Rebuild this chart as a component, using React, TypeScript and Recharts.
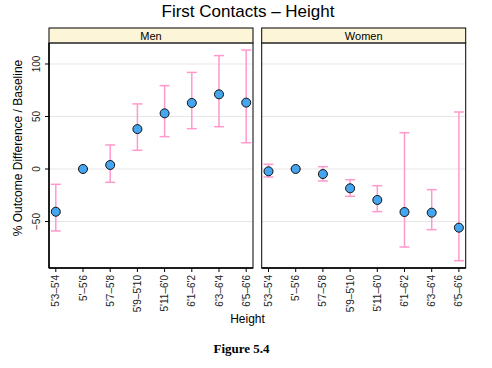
import React from "react";
import { ComposedChart, Scatter, XAxis, YAxis, CartesianGrid, ErrorBar } from "recharts";

const heightLabels = ["5'3–5'4", "5'–5'6", "5'7–5'8", "5'9–5'10", "5'11–6'0", "6'1–6'2", "6'3–6'4", "6'5–6'6"];
const menValues = [-40.7, 0, 3.8, 38, 53, 62.9, 71.1, 63.2];
const menLow = [-59, 0, -12.7, 17.8, 30.8, 38.4, 40.3, 25];
const menHigh = [-14.6, 0, 22.9, 62, 79.4, 92, 108, 113.3];
const womenValues = [-2.2, 0, -4.8, -18.4, -29.5, -41, -41.6, -55.9];
const womenLow = [-7.6, 0, -11.4, -26, -40.6, -74.3, -57.8, -87.3];
const womenHigh = [4.5, 0, 2.2, -10.2, -15.9, 34.6, -19.7, 54.3];
const yTicks = [-50, 0, 50, 100];
const xTicks = [1, 2, 3, 4, 5, 6, 7, 8];

const build = (vals: number[], lo: number[], hi: number[]) =>
  vals.map((v, i) => ({ x: i + 1, y: v, err: [v - lo[i], hi[i] - v] }));

const menData = build(menValues, menLow, menHigh);
const womenData = build(womenValues, womenLow, womenHigh);

const FONT = "'Liberation Sans', Arial, Helvetica, sans-serif";

const XTick = (props: any) => {
  const { x, y, payload } = props;
  const bx = x + 3.5;
  const by = y + 1;
  return (
    <text x={bx} y={by} transform={`rotate(-90 ${bx} ${by})`} textAnchor="end" fontSize={10} fontFamily={FONT} fill="#222">
      {heightLabels[payload.value - 1]}
    </text>
  );
};

const YTick = (props: any) => {
  const { x, y, payload } = props;
  const bx = x - 3;
  return (
    <text x={bx} y={y} transform={`rotate(-90 ${bx} ${y})`} textAnchor="middle" fontSize={10} fontFamily={FONT} fill="#222">
      {payload.value < 0 ? "−" + Math.abs(payload.value) : payload.value}
    </text>
  );
};

const Dot = (props: any) => {
  const { cx, cy } = props;
  return <circle cx={cx} cy={cy} r={4.5} fill="#45a5ef" stroke="#111" strokeWidth={1} />;
};

const Panel = ({ data, showY, left, width, marginLeft, marginRight }: any) => (
  <div style={{ position: "absolute", left, top: 0 }}>
    <ComposedChart width={width} height={368} data={data} margin={{ top: 43, right: marginRight, bottom: 0, left: marginLeft }}>
      <CartesianGrid vertical={false} stroke="#e6e6e6" strokeWidth={1} />
      <XAxis
        type="number"
        dataKey="x"
        domain={[0.75, 8.25]}
        ticks={xTicks}
        interval={0}
        height={100}
        tick={<XTick />}
        tickSize={4}
        axisLine={{ stroke: "#000", strokeWidth: 1.5 }}
        tickLine={{ stroke: "#000" }}
        allowDataOverflow
      />
      <YAxis
        type="number"
        dataKey="y"
        domain={[-94.3, 120]}
        ticks={yTicks}
        hide={!showY}
        width={49}
        tick={<YTick />}
        tickSize={4}
        axisLine={{ stroke: "#000", strokeWidth: 1.5 }}
        tickLine={{ stroke: "#000" }}
        allowDataOverflow
      />
      <Scatter data={data} dataKey="y" shape={<Dot />} isAnimationActive={false}>
        <ErrorBar dataKey="err" direction="y" width={5} stroke="#ff99cc" strokeWidth={1.5} />
      </Scatter>
    </ComposedChart>
  </div>
);

export default function App() {
  return (
    <div style={{ position: "absolute", left: 0, top: 0, width: 492, height: 368, background: "#fff", overflow: "hidden" }}>
      <svg width={492} height={368} style={{ position: "absolute", left: 0, top: 0 }}>
        <text x={248} y={17} textAnchor="middle" fontSize={17} fontFamily={FONT} fill="#000">First Contacts – Height</text>
        <rect x={49} y={28} width={204} height={15} fill="#fdf5d8" stroke="#000" strokeWidth={1} />
        <text x={151} y={39.5} textAnchor="middle" fontSize={11} fontFamily={FONT} fill="#000">Men</text>
        <rect x={261.7} y={28} width={204} height={15} fill="#fdf5d8" stroke="#000" strokeWidth={1} />
        <text x={363.7} y={39.5} textAnchor="middle" fontSize={11} fontFamily={FONT} fill="#000">Women</text>
        <text x={22} y={148} transform="rotate(-90 22 148)" textAnchor="middle" fontSize={12} fontFamily={FONT} fill="#000">% Outcome Difference / Baseline</text>
        <text x={247.5} y={323} textAnchor="middle" fontSize={12} fontFamily={FONT} fill="#000">Height</text>
        <text x={241.5} y={353} textAnchor="middle" fontSize={13} fontWeight="bold" fontFamily="'Liberation Serif', 'Times New Roman', serif" fill="#000">Figure 5.4</text>
      </svg>
      <Panel data={menData} showY={true} left={0} width={260} marginLeft={0} marginRight={7} />
      <Panel data={womenData} showY={false} left={255} width={215} marginLeft={6.7} marginRight={4.3} />
      <svg width={492} height={368} style={{ position: "absolute", left: 0, top: 0, pointerEvents: "none" }}>
        <rect x={49} y={43} width={204} height={225} fill="none" stroke="#000" strokeWidth={1} />
        <rect x={261.7} y={43} width={204} height={225} fill="none" stroke="#000" strokeWidth={1} />
      </svg>
    </div>
  );
}
